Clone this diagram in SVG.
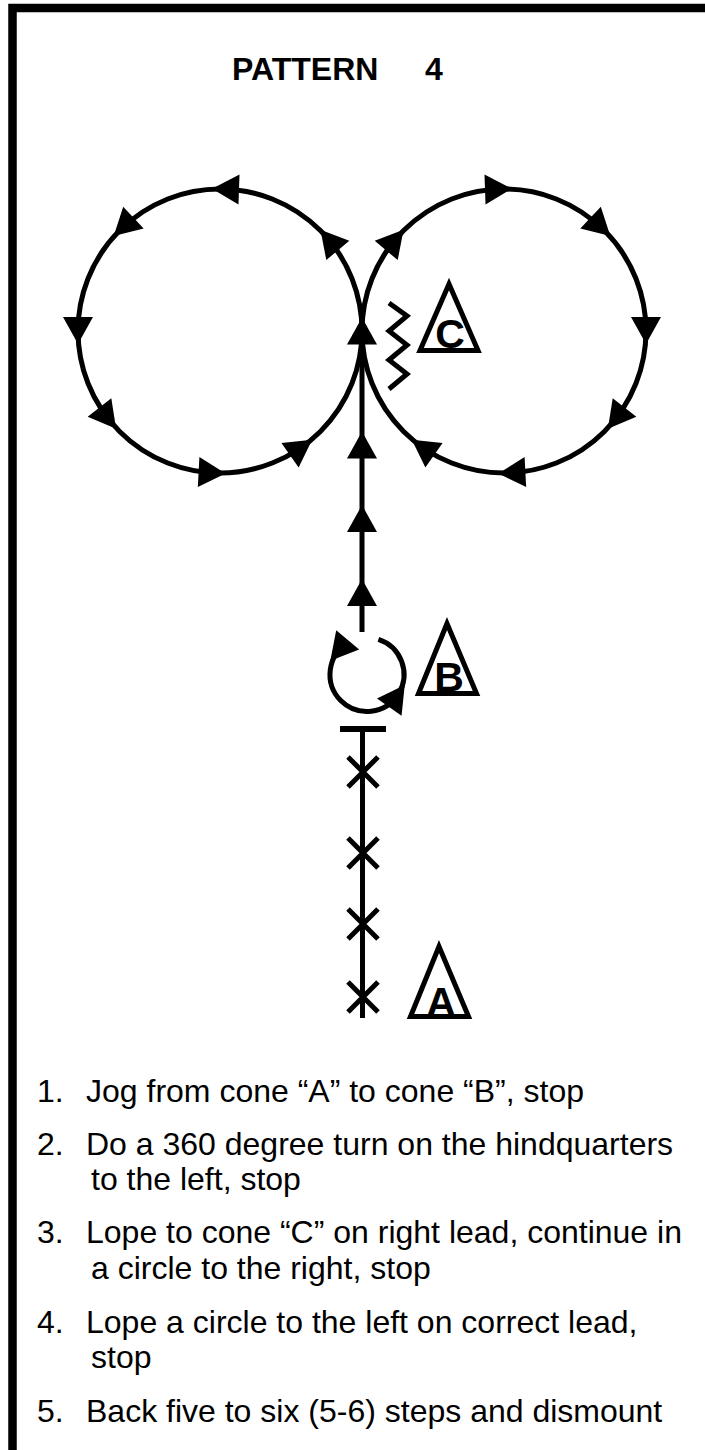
<svg xmlns="http://www.w3.org/2000/svg" xmlns:xlink="http://www.w3.org/1999/xlink" width="705" height="1450" viewBox="0 0 705 1450">
<style>
.ln{fill:none;stroke:#000;stroke-width:5}
.cone{fill:none;stroke:#000;stroke-width:5;stroke-linejoin:miter}
.lbl{font-family:"Liberation Sans",Arial,sans-serif;font-weight:bold;font-size:41px;text-anchor:middle;fill:#000}
.title{font-family:"Liberation Sans",Arial,sans-serif;font-weight:bold;font-size:32px;fill:#000}
.body{font-family:"Liberation Sans",Arial,sans-serif;font-size:32px;fill:#000}
</style>
<defs>
<path id="ah" d="M13,0 L-14,-15 L-14,15 Z" fill="#000"/>
</defs>
<rect width="705" height="1450" fill="#fff"/>
<path id="frame" d="M12.5,1450 V8 H705" fill="none" stroke="#000" stroke-width="8.5"/>
<g id="title"><text class="title" y="80"><tspan x="232">PATTERN</tspan><tspan x="425">4</tspan></text></g>
<g id="connectors">
<g id="circle-left">
<circle class="ln" cx="220" cy="331" r="142"/>
<use xlink:href="#ah" transform="translate(328.8,239.7) rotate(-130)"/>
<use xlink:href="#ah" transform="translate(225,189.1) rotate(-178)"/>
<use xlink:href="#ah" transform="translate(123.2,227.2) rotate(137)"/>
<use xlink:href="#ah" transform="translate(78,331) rotate(90)"/>
<use xlink:href="#ah" transform="translate(108.1,418.5) rotate(52)"/>
<use xlink:href="#ah" transform="translate(212.6,472.8) rotate(3)"/>
<use xlink:href="#ah" transform="translate(301.5,447.3) rotate(-35)"/>
</g>
<g id="circle-right">
<circle class="ln" cx="504" cy="331" r="142"/>
<use xlink:href="#ah" transform="translate(395.2,239.7) rotate(-50)"/>
<use xlink:href="#ah" transform="translate(499,189.1) rotate(-2)"/>
<use xlink:href="#ah" transform="translate(600.8,227.2) rotate(43)"/>
<use xlink:href="#ah" transform="translate(646,331) rotate(90)"/>
<use xlink:href="#ah" transform="translate(615.9,418.5) rotate(128)"/>
<use xlink:href="#ah" transform="translate(511.4,472.8) rotate(177)"/>
<use xlink:href="#ah" transform="translate(422.5,447.3) rotate(-145)"/>
</g>
<g id="lope-line">
<path class="ln" d="M362,331 V632"/>
<use xlink:href="#ah" transform="translate(362,330.5) rotate(-90)"/>
<use xlink:href="#ah" transform="translate(362,444.5) rotate(-90)"/>
<use xlink:href="#ah" transform="translate(362,518) rotate(-90)"/>
<use xlink:href="#ah" transform="translate(362,592) rotate(-90)"/>
</g>
<g id="turn">
<path class="ln" d="M347.9,642.8 A37,37 0 1 0 378.4,639.3"/>
<use xlink:href="#ah" transform="translate(338.7,650.7) rotate(130)"/>
<use xlink:href="#ah" transform="translate(397.3,695.7) rotate(-55)"/>
</g>
<g id="jog-line">
<path d="M340,729 H386" fill="none" stroke="#000" stroke-width="6"/>
<path class="ln" d="M362.5,729 V1018"/>
<path class="ln" d="M348,757 L378,787 M378,757 L348,787"/>
<path class="ln" d="M348,838 L378,868 M378,838 L348,868"/>
<path class="ln" d="M348,909 L378,939 M378,909 L348,939"/>
<path class="ln" d="M348,982 L378,1012 M378,982 L348,1012"/>
</g>
<g id="zigzag">
<path class="ln" stroke-linejoin="miter" d="M389,303 L407,316 L389,331 L407,345 L389,360 L407,374 L389,389"/>
</g>
</g>
<g id="cone-c">
<polygon class="cone" points="449,284 420,350.5 478,350.5"/>
<text class="lbl" x="450" y="348">C</text>
</g>
<g id="cone-b">
<polygon class="cone" points="447,623.5 418.5,693.5 476.5,693.5"/>
<text class="lbl" x="449" y="691">B</text>
</g>
<g id="cone-a">
<polygon class="cone" points="439,946.5 410.5,1016.5 468.5,1016.5"/>
<text class="lbl" x="441" y="1016">A</text>
</g>
<g id="instructions">
<text class="body" x="37" y="1102">1.</text><text class="body" x="86" y="1102">Jog from cone “A” to cone “B”, stop</text>
<text class="body" x="37" y="1155">2.</text><text class="body" x="86" y="1155">Do a 360 degree turn on the hindquarters</text>
<text class="body" x="91" y="1190">to the left, stop</text>
<text class="body" x="37" y="1243">3.</text><text class="body" x="86" y="1243">Lope to cone “C” on right lead, continue in</text>
<text class="body" x="91" y="1279">a circle to the right, stop</text>
<text class="body" x="37" y="1333">4.</text><text class="body" x="86" y="1333">Lope a circle to the left on correct lead,</text>
<text class="body" x="91" y="1368">stop</text>
<text class="body" x="37" y="1422">5.</text><text class="body" x="86" y="1422">Back five to six (5-6) steps and dismount</text>
</g>
</svg>
